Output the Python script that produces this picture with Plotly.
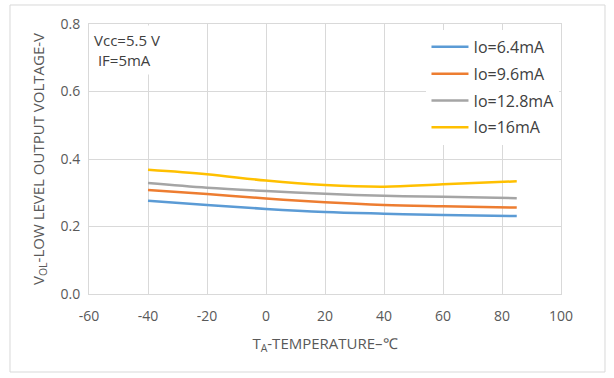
import plotly.graph_objects as go

temps = [-40, -20, 0, 20, 40, 60, 85]
io_6_4 = [0.276, 0.264, 0.252, 0.243, 0.238, 0.234, 0.231]
io_9_6 = [0.308, 0.296, 0.283, 0.272, 0.264, 0.260, 0.256]
io_12_8 = [0.329, 0.315, 0.305, 0.297, 0.291, 0.288, 0.284]
io_16 = [0.368, 0.355, 0.336, 0.323, 0.318, 0.325, 0.334]

series_names = ["Io=6.4mA", "Io=9.6mA", "Io=12.8mA", "Io=16mA"]
series_vals = [io_6_4, io_9_6, io_12_8, io_16]
colors = ["#5B9BD5", "#ED7D31", "#A5A5A5", "#FFC000"]

x_ticks = [-60, -40, -20, 0, 20, 40, 60, 80, 100]
y_ticks = [0.0, 0.2, 0.4, 0.6, 0.8]

FONT = "Open Sans"
TXT = "#595959"

fig = go.Figure()
for name, vals, c in zip(series_names, series_vals, colors):
    fig.add_trace(go.Scatter(x=temps, y=vals, name=name, mode="lines",
                             legendgroup=name,
                             line=dict(color=c, width=2.5, shape="spline")))

fig.update_layout(
    width=614, height=378,
    margin=dict(l=89, r=53, t=24, b=84),
    paper_bgcolor="white", plot_bgcolor="white",
    font=dict(family=FONT, size=13, color=TXT),
    showlegend=True,
    legend=dict(x=0.715, y=0.978, xanchor="left", yanchor="top",
                bgcolor="white", font=dict(family=FONT, size=16, color="#404040"),
                itemwidth=37, tracegroupgap=3, traceorder="grouped"),
    xaxis=dict(range=[-60, 100], tickvals=x_ticks, ticktext=[str(v) for v in x_ticks],
               showgrid=True, gridcolor="#D9D9D9", zeroline=False,
               showline=True, linecolor="#D9D9D9", mirror=True,
               ticks="outside", ticklen=9, tickcolor="rgba(0,0,0,0)",
               tickfont=dict(size=14, color=TXT),
               title=dict(text="T<sub>A</sub>-TEMPERATURE\u2013\u2103",
                          font=dict(size=15, color=TXT), standoff=14)),
    yaxis=dict(range=[0, 0.8], tickvals=y_ticks, ticktext=[f"{v:.1f}" for v in y_ticks],
               showgrid=True, gridcolor="#D9D9D9", zeroline=False,
               showline=True, linecolor="#D9D9D9", mirror=True,
               ticks="outside", ticklen=5, tickcolor="rgba(0,0,0,0)",
               tickfont=dict(size=14, color=TXT),
               title=dict(text="V<sub>OL</sub>-LOW LEVEL OUTPUT VOLTAGE-V",
                          font=dict(size=15, color=TXT), standoff=12)),
)

fig.add_annotation(xref="paper", yref="paper", x=0.0, y=0.995,
                   xanchor="left", yanchor="top", align="left",
                   text="Vcc=5.5 V<br>\u00a0IF=5mA", showarrow=False,
                   bgcolor="white", borderpad=4,
                   font=dict(family=FONT, size=15, color="#404040"))

fig.add_shape(type="rect", xref="paper", yref="paper",
              x0=-0.1674, x1=1.0932, y0=-0.2889, y1=1.0704,
              line=dict(color="#D9D9D9", width=1), layer="below")

fig.write_html("out.html")
